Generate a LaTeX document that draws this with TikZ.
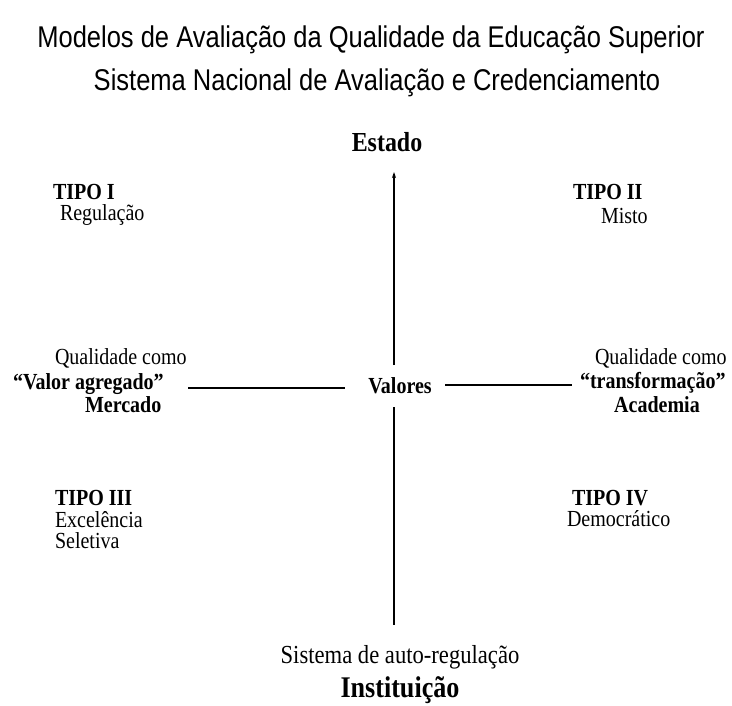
\documentclass[tikz,border=0pt]{standalone}
\usepackage{fontspec}
\setmainfont{Liberation Serif}[FakeStretch=0.87]
\newfontfamily\titlefont{Liberation Sans}[FakeStretch=0.85]
\usetikzlibrary{arrows.meta}
\begin{document}
\begin{tikzpicture}[x=1pt,y=-1pt,
  every node/.style={inner sep=0pt,outer sep=0pt},
  ttl/.style={font=\titlefont\fontsize{30}{32}\selectfont},
  lab/.style={font=\fontsize{23}{26}\selectfont, anchor=west},
  labb/.style={font=\bfseries\fontsize{23}{26}\selectfont, anchor=west},
  axis/.style={line width=1.8pt, black},
  axisarrow/.style={axis, -{Stealth[length=6pt,width=4pt]}}]
\useasboundingbox (0,0) rectangle (732,706);
\fill[white] (0,0) rectangle (732,706);
% titles
\node[ttl] (title) at (371,40) {Modelos de Avaliação da Qualidade da Educação Superior};
\node[ttl] (sub) at (377,83) {Sistema Nacional de Avaliação e Credenciamento};
% poles
\node[font=\bfseries\fontsize{27.5}{30}\selectfont] (estado) at (387,142) {Estado};
\node[font=\fontsize{26}{29}\selectfont] (sistema) at (400,657) {Sistema de auto-regulação};
\node[font=\bfseries\fontsize{30}{33}\selectfont] (inst) at (400,690) {Instituição};
% quadrants
\node[labb] (t1) at (53,192) {TIPO I};
\node[lab] (t1a) at (60,215) {Regulação};
\node[labb] (t2) at (573,192) {TIPO II};
\node[lab] (t2a) at (601,216) {Misto};
\node[labb] (t3) at (55,498) {TIPO III};
\node[lab] (t3a) at (55,520) {Excelência};
\node[lab] (t3b) at (55,541) {Seletiva};
\node[labb] (t4) at (572,498) {TIPO IV};
\node[lab] (t4a) at (567,519) {Democrático};
% left and right poles
\node[lab] (ql) at (55,358) {Qualidade como};
\node[labb] (va) at (13,384) {“Valor agregado”};
\node[labb] (merc) at (85,405) {Mercado};
\node[lab] (qr) at (595,358) {Qualidade como};
\node[labb] (tr) at (580,383) {“transformação”};
\node[labb, anchor=center] (acad) at (657,405) {Academia};
% centre
\node[font=\bfseries\fontsize{23}{26}\selectfont] (valores) at (400,386) {Valores};
% axes
\coordinate (vtop) at (394,172);
\coordinate (vup) at (394,365);
\coordinate (vdn) at (394,407);
\coordinate (vbot) at (394,625);
\coordinate (hl1) at (188,388);
\coordinate (hl2) at (345,388);
\coordinate (hr1) at (445,385);
\coordinate (hr2) at (572,385);
\draw[axisarrow] (vup) -- (vtop);
\draw[axis] (vdn) -- (vbot);
\draw[axis] (hl1) -- (hl2);
\draw[axis] (hr1) -- (hr2);
\end{tikzpicture}
\end{document}
